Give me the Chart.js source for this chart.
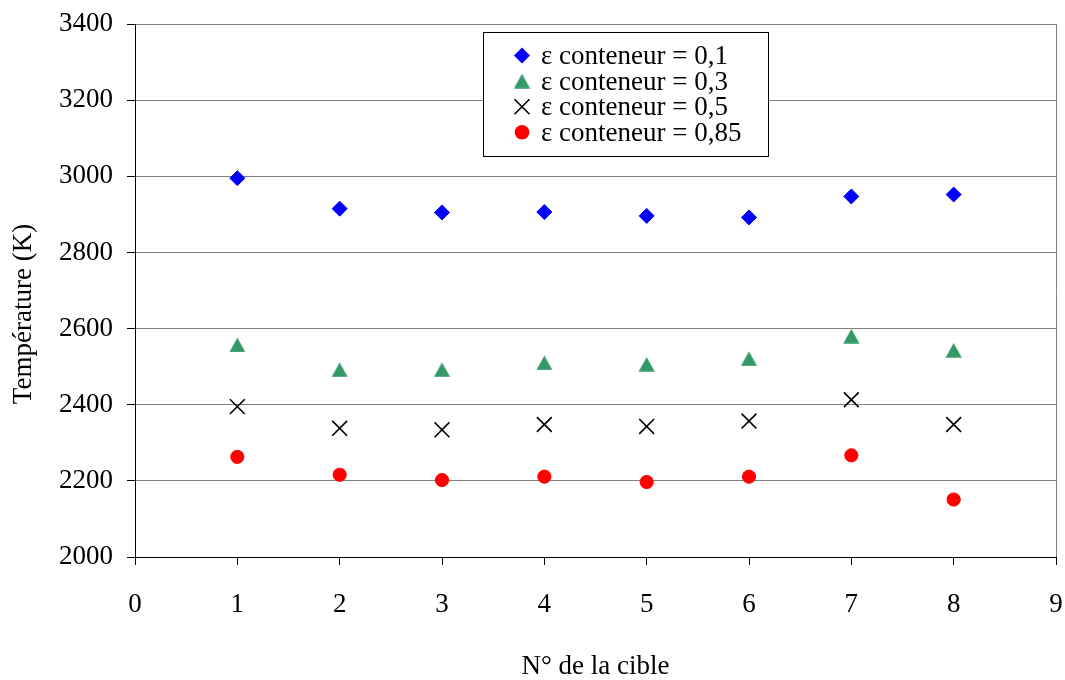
<!DOCTYPE html>
<html>
<head>
    <title>Température des cibles</title>
    <script src="https://cdn.jsdelivr.net/npm/chart.js"></script>
    <style>
        body { margin: 0; background: #fff; }
    </style>
</head>
<body>
    <canvas id="tempChart" width="1065" height="680"></canvas>
    <script>
        // valeurs
        const cibles = [1, 2, 3, 4, 5, 6, 7, 8];
        const eps01 = [2995, 2915, 2905, 2906, 2896, 2892, 2947, 2952];
        const eps03 = [2557, 2492, 2492, 2510, 2506, 2521, 2580, 2543];
        const eps05 = [2395, 2338, 2334, 2348, 2343, 2357, 2413, 2348];
        const eps085 = [2263, 2216, 2202, 2211, 2197, 2211, 2267, 2151];
        const seriesLabels = ['ε conteneur = 0,1', 'ε conteneur = 0,3', 'ε conteneur = 0,5', 'ε conteneur = 0,85'];
        const xTicks = [0, 1, 2, 3, 4, 5, 6, 7, 8, 9];
        const yTicks = [2000, 2200, 2400, 2600, 2800, 3000, 3200, 3400];
        const yTitle = 'Température (K)';

        const FONT = "'Liberation Serif', 'Times New Roman', serif";
        Chart.defaults.font.family = FONT;
        Chart.defaults.font.size = 27;
        Chart.defaults.color = '#000';

        // triangle centred on its box, like the Excel marker
        function triangleImage(color) {
            const c = document.createElement('canvas');
            c.width = 17;
            c.height = 15;
            const g = c.getContext('2d');
            g.fillStyle = color;
            g.beginPath();
            g.moveTo(8.5, 0.3);
            g.lineTo(16.6, 14.7);
            g.lineTo(0.4, 14.7);
            g.closePath();
            g.fill();
            return c;
        }
        const triImg = triangleImage('#339966');

        function pts(ys) {
            return cibles.map((x, i) => ({ x: x, y: ys[i] }));
        }

        const datasets = [
            { label: seriesLabels[0], data: pts(eps01), pointStyle: 'rectRot', pointRadius: 7.5,
              backgroundColor: '#0000ff', borderColor: '#0000ff', borderWidth: 1 },
            { label: seriesLabels[1], data: pts(eps03), pointStyle: triImg, pointRadius: 8,
              backgroundColor: '#339966', borderColor: '#339966', borderWidth: 0 },
            { label: seriesLabels[2], data: pts(eps05), pointStyle: 'crossRot', pointRadius: 10.5,
              backgroundColor: '#000', borderColor: '#000', borderWidth: 1.6 },
            { label: seriesLabels[3], data: pts(eps085), pointStyle: 'circle', pointRadius: 6.6,
              backgroundColor: '#ff0000', borderColor: '#ff0000', borderWidth: 1 }
        ];

        // legend box inside the plot + y title placed like the original
        const boxLegend = {
            id: 'boxLegend',
            afterDatasetsDraw(chart) {
                const ctx = chart.ctx;
                const left = 484, top = 33, w = 285, h = 124;
                ctx.save();
                ctx.fillStyle = '#fff';
                ctx.fillRect(left, top, w, h);
                ctx.strokeStyle = '#000';
                ctx.lineWidth = 1;
                ctx.strokeRect(left - 0.5, top - 0.5, w, h);
                ctx.font = '27px ' + FONT;
                ctx.textAlign = 'left';
                ctx.textBaseline = 'alphabetic';
                const mx = 522, tx = 541;
                chart.data.datasets.forEach((ds, i) => {
                    const cy = 55.5 + i * 25.6;
                    ctx.fillStyle = ds.backgroundColor;
                    ctx.strokeStyle = ds.borderColor;
                    if (i === 0) {
                        ctx.beginPath();
                        ctx.moveTo(mx - 8, cy); ctx.lineTo(mx, cy - 8);
                        ctx.lineTo(mx + 8, cy); ctx.lineTo(mx, cy + 8);
                        ctx.closePath(); ctx.fill();
                    } else if (i === 1) {
                        ctx.drawImage(triImg, mx - triImg.width / 2, cy - triImg.height / 2);
                    } else if (i === 2) {
                        ctx.lineWidth = 1.6;
                        ctx.beginPath();
                        ctx.moveTo(mx - 7.5, cy - 7.5); ctx.lineTo(mx + 7.5, cy + 7.5);
                        ctx.moveTo(mx + 7.5, cy - 7.5); ctx.lineTo(mx - 7.5, cy + 7.5);
                        ctx.stroke();
                    } else {
                        ctx.beginPath();
                        ctx.arc(mx, cy, 7.3, 0, Math.PI * 2);
                        ctx.fill();
                    }
                    ctx.fillStyle = '#000';
                    ctx.fillText(ds.label, tx, cy + 8.5);
                });

                // y axis title
                ctx.translate(24, 314);
                ctx.rotate(-Math.PI / 2);
                ctx.textAlign = 'center';
                ctx.textBaseline = 'middle';
                ctx.fillStyle = '#000';
                ctx.fillText(yTitle, 0, 0);
                ctx.restore();
            }
        };

        new Chart(document.getElementById('tempChart'), {
            type: 'scatter',
            data: { datasets: datasets },
            options: {
                responsive: false,
                animation: false,
                events: [],
                layout: { autoPadding: false, padding: { top: 24, right: 9, left: 0, bottom: 0 } },
                plugins: {
                    legend: { display: false },
                    tooltip: { enabled: false }
                },
                scales: {
                    x: {
                        type: 'linear',
                        min: 0,
                        max: 9,
                        afterBuildTicks: s => { s.ticks = xTicks.map(v => ({ value: v })); },
                        afterFit: s => {
                            s.height = 123;
                            s.paddingLeft = 0;
                            s.paddingRight = 0;
                        },
                        ticks: { padding: 24, callback: v => String(v) },
                        grid: {
                            color: c => (c.tick && c.tick.value === 9) ? '#808080' : 'rgba(0,0,0,0)',
                            tickColor: '#000',
                            tickLength: 8,
                            lineWidth: 1
                        },
                        border: { color: '#000', width: 1 },
                        title: {
                            display: true,
                            text: 'N° de la cible',
                            font: { size: 27, lineHeight: 1 },
                            padding: { top: 0, bottom: 0 }
                        }
                    },
                    y: {
                        min: 2000,
                        max: 3400,
                        afterBuildTicks: s => { s.ticks = yTicks.map(v => ({ value: v })); },
                        afterFit: s => {
                            s.width = 135;
                            s.paddingTop = 0;
                            s.paddingBottom = 0;
                        },
                        ticks: { padding: 14, callback: v => String(v) },
                        grid: {
                            color: c => (c.tick && c.tick.value === 2000) ? 'rgba(0,0,0,0)' : '#808080',
                            tickColor: '#000',
                            tickLength: 8,
                            lineWidth: 1
                        },
                        border: { color: '#000', width: 1 },
                        title: { display: false }
                    }
                }
            },
            plugins: [boxLegend]
        });
    </script>
</body>
</html>
